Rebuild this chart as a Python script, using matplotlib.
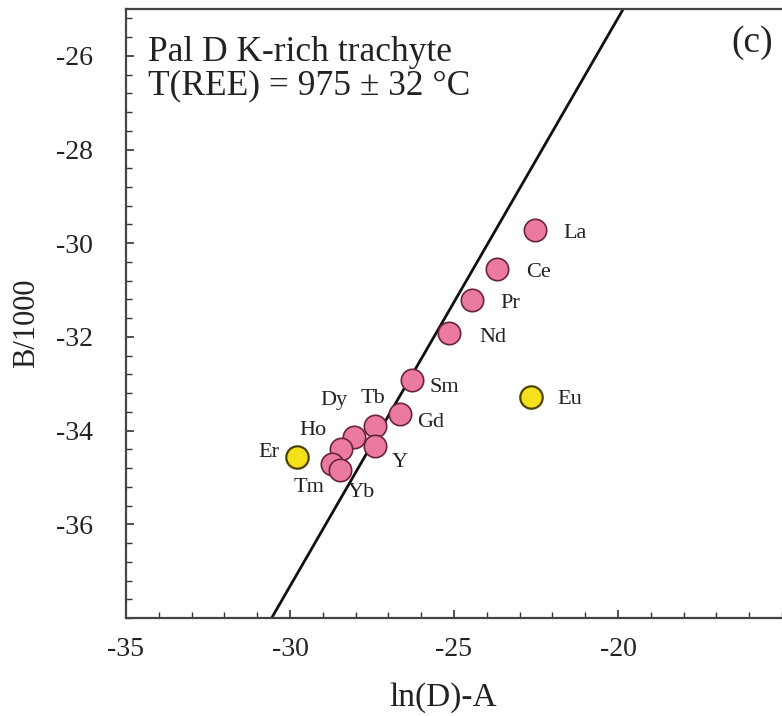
import matplotlib
matplotlib.use("Agg")
import matplotlib.pyplot as plt
from matplotlib.ticker import MultipleLocator

plt.rcParams["font.family"] = ["Liberation Serif", "DejaVu Serif"]
plt.rcParams["axes.unicode_minus"] = False

# REE data: x = ln(D)-A, y = B/1000
elements = ["La", "Ce", "Pr", "Nd", "Sm", "Gd", "Tb", "Y", "Dy", "Ho", "Tm", "Yb"]
x_vals = [-22.53, -23.70, -24.44, -25.14, -26.29, -26.65, -27.41, -27.41, -28.04, -28.43, -28.73, -28.48]
y_vals = [-29.71, -30.54, -31.22, -31.92, -32.91, -33.64, -33.91, -34.32, -34.14, -34.39, -34.71, -34.85]

# anomalous elements excluded from the fit
out_elements = ["Eu", "Er"]
out_x = [-22.65, -29.78]
out_y = [-33.28, -34.57]

# regression line end points
line_x = [-30.56, -19.84]
line_y = [-38.0, -25.0]

x_ticks = [-35, -30, -25, -20]
y_ticks = [-36, -34, -32, -30, -28, -26]

# label offsets in pixels (dx, dy)
offsets = {
    "La": (40, -4), "Ce": (42, -4), "Pr": (38, -3), "Nd": (43, -4),
    "Sm": (33, -8), "Gd": (31, -9), "Tb": (-2, 28), "Y": (25, -17),
    "Dy": (-20, 37), "Ho": (-29, 18), "Tm": (-23, -24), "Yb": (22, -22),
    "Eu": (39, -3), "Er": (-28, 5),
}

fig = plt.figure(figsize=(7.82, 7.16), dpi=100)
ax = fig.add_axes([126 / 782, 1 - 618 / 716, 656 / 782, 609 / 716])

ax.plot(line_x, line_y, color="#111111", lw=2.0, zorder=2)
ax.scatter(x_vals, y_vals, s=260, c="#EA7A9E", edgecolors="#6a2438", linewidths=1.2, zorder=3)
ax.scatter(out_x, out_y, s=260, c="#F4E11C", edgecolors="#4d4300", linewidths=1.6, zorder=3)

for name, x, y in zip(elements + out_elements, x_vals + out_x, y_vals + out_y):
    dx, dy = offsets[name]
    ax.annotate(name, (x, y), xytext=(dx, dy), textcoords="offset pixels",
                ha="center", va="center", fontsize=16, color="#222222")

ax.set_xlim(-35, -15)
ax.set_ylim(-38, -25)
ax.set_xticks(x_ticks)
ax.set_yticks(y_ticks)
ax.xaxis.set_minor_locator(MultipleLocator(1))
ax.yaxis.set_minor_locator(MultipleLocator(0.4))
ax.tick_params(which="both", direction="in", colors="#333333", labelcolor="#222222")
ax.tick_params(which="major", length=6, width=1.2, labelsize=20)
ax.tick_params(which="minor", length=4, width=1.0)
ax.tick_params(axis="x", pad=14)
ax.tick_params(axis="y", pad=24)

for side in ["left", "bottom", "top"]:
    ax.spines[side].set_linewidth(1.6)
    ax.spines[side].set_color("#444444")
ax.spines["right"].set_visible(False)

ax.set_xlabel("ln(D)-A", fontsize=24, color="#222222")
ax.set_ylabel("B/1000", fontsize=22, color="#222222")
ax.xaxis.set_label_coords(0.484, -0.105)
ax.yaxis.set_label_coords(-0.13, 0.484)

ax.text(0.034, 0.929, "Pal D K-rich trachyte", transform=ax.transAxes,
        fontsize=25.5, ha="left", va="center", color="#222222")
ax.text(0.034, 0.874, "T(REE) = 975 ± 32 °C", transform=ax.transAxes,
        fontsize=25.5, ha="left", va="center", color="#222222")
ax.text(0.955, 0.945, "(c)", transform=ax.transAxes,
        fontsize=27, ha="center", va="center", color="#222222")

fig.savefig("out.png", dpi=100)
